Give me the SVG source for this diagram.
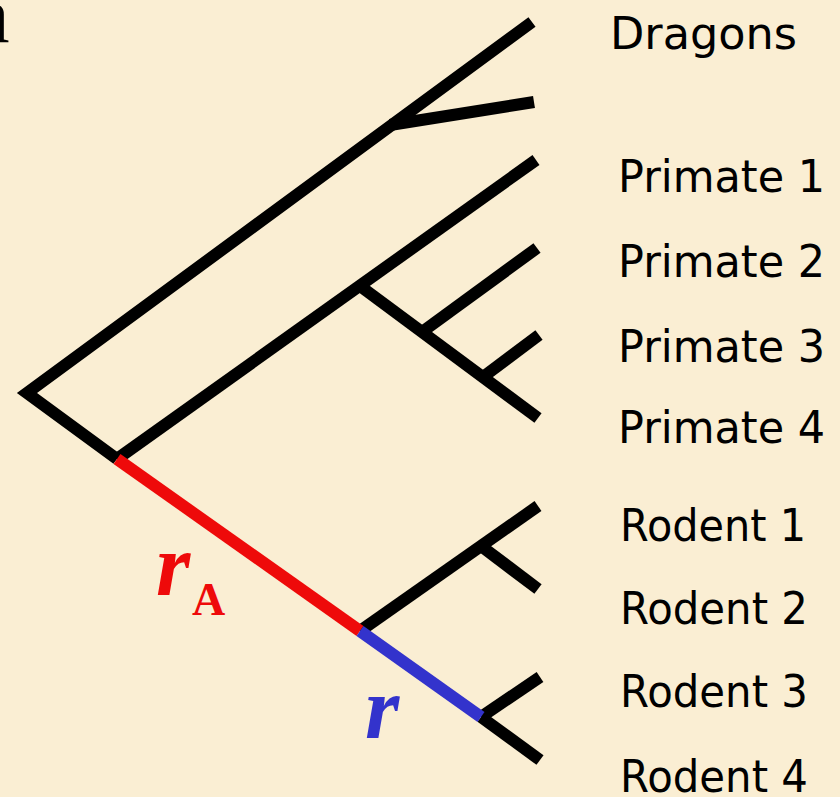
<svg xmlns="http://www.w3.org/2000/svg" width="840" height="797" viewBox="0 0 840 797">
<style>
.lbl{font-family:"DejaVu Sans","Verdana",sans-serif;font-size:45px;fill:#000}
.br{fill:none;stroke:#000;stroke-width:12;stroke-linecap:butt;stroke-linejoin:miter}
.rate{font-family:"Liberation Serif","Times New Roman",serif;font-weight:bold}
</style>
<rect x="0" y="0" width="840" height="797" fill="#FAEED3"/>
<text x="-26" y="42" font-family="Liberation Serif,serif" font-size="80" fill="#000">a</text>
<g id="connectors">
  <polyline class="br" points="532,22 27,393 117,459"/>
  <line class="br" x1="390" y1="125" x2="534" y2="102"/>
  <line class="br" x1="117" y1="459" x2="536" y2="160"/>
  <line class="br" x1="360" y1="286" x2="538" y2="418"/>
  <line class="br" x1="422" y1="332" x2="537" y2="248"/>
  <line class="br" x1="483" y1="377" x2="539" y2="335"/>
  <line class="br" x1="360" y1="631" x2="538" y2="506"/>
  <line class="br" x1="481" y1="546" x2="538" y2="589"/>
  <line class="br" x1="481" y1="717" x2="540" y2="760"/>
  <line class="br" x1="481" y1="717" x2="540" y2="677"/>
  <line id="rA-branch" x1="117" y1="459" x2="360" y2="631" stroke="#EE0A0A" stroke-width="12"/>
  <line id="r-branch" x1="360" y1="631" x2="481" y2="717" stroke="#3333CC" stroke-width="12"/>
</g>
<g id="label-rA">
  <text class="rate" x="156" y="595" font-size="88" font-style="italic" fill="#EE0A0A">r</text>
  <text class="rate" x="192" y="615" font-size="46" fill="#EE0A0A">A</text>
</g>
<g id="label-r">
  <text class="rate" x="365" y="738" font-size="88" font-style="italic" fill="#3333CC">r</text>
</g>
<g id="node-dragons"><text class="lbl" x="610" y="49" textLength="187" lengthAdjust="spacingAndGlyphs">Dragons</text></g>
<g id="node-primate1"><text class="lbl" x="618" y="192" textLength="207" lengthAdjust="spacingAndGlyphs">Primate 1</text></g>
<g id="node-primate2"><text class="lbl" x="618" y="277" textLength="207" lengthAdjust="spacingAndGlyphs">Primate 2</text></g>
<g id="node-primate3"><text class="lbl" x="618" y="362" textLength="207" lengthAdjust="spacingAndGlyphs">Primate 3</text></g>
<g id="node-primate4"><text class="lbl" x="618" y="443" textLength="207" lengthAdjust="spacingAndGlyphs">Primate 4</text></g>
<g id="node-rodent1"><text class="lbl" x="620" y="541" textLength="186" lengthAdjust="spacingAndGlyphs">Rodent 1</text></g>
<g id="node-rodent2"><text class="lbl" x="620" y="624" textLength="188" lengthAdjust="spacingAndGlyphs">Rodent 2</text></g>
<g id="node-rodent3"><text class="lbl" x="620" y="707" textLength="188" lengthAdjust="spacingAndGlyphs">Rodent 3</text></g>
<g id="node-rodent4"><text class="lbl" x="620" y="792" textLength="188" lengthAdjust="spacingAndGlyphs">Rodent 4</text></g>
</svg>
